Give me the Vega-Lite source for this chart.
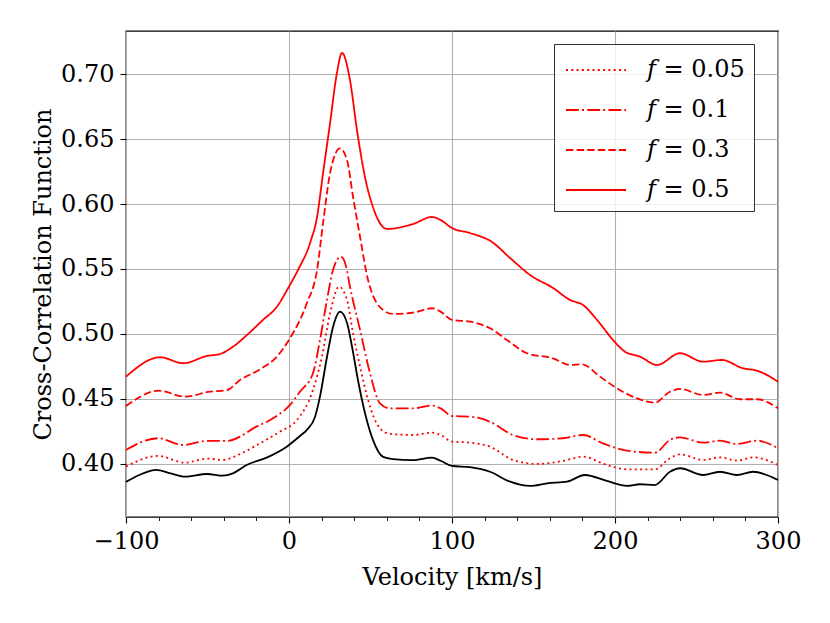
{
  "$schema": "https://vega.github.io/schema/vega-lite/v6.json",
  "width": 652,
  "height": 486,
  "autosize": {"type": "none"},
  "padding": {"left": 126, "top": 31, "right": 52, "bottom": 106},
  "background": "white",
  "config": {
    "font": "DejaVu Serif",
    "view": {"stroke": "black", "strokeWidth": 1.3},
    "axis": {
      "domain": false,
      "tickColor": "black",
      "tickWidth": 1.1,
      "labelFont": "DejaVu Serif",
      "labelFontSize": 24,
      "labelColor": "black",
      "titleFont": "DejaVu Serif",
      "titleFontSize": 24,
      "titleFontWeight": "normal",
      "titleColor": "black",
      "gridColor": "#b0b0b0",
      "gridWidth": 1.1,
      "gridOpacity": 1
    }
  },
  "data": {
    "values": [
      {"series": "base", "velocity": -100, "ccf": 0.3862},
      {"series": "base", "velocity": -90, "ccf": 0.3925},
      {"series": "base", "velocity": -81.6, "ccf": 0.3955},
      {"series": "base", "velocity": -72, "ccf": 0.3925},
      {"series": "base", "velocity": -63.8, "ccf": 0.3902},
      {"series": "base", "velocity": -50.3, "ccf": 0.3923},
      {"series": "base", "velocity": -40.5, "ccf": 0.391},
      {"series": "base", "velocity": -34.4, "ccf": 0.3928},
      {"series": "base", "velocity": -26, "ccf": 0.3992},
      {"series": "base", "velocity": -13.7, "ccf": 0.4049},
      {"series": "base", "velocity": -1.4, "ccf": 0.4133},
      {"series": "base", "velocity": 6.7, "ccf": 0.4215},
      {"series": "base", "velocity": 11, "ccf": 0.4262},
      {"series": "base", "velocity": 16, "ccf": 0.4364},
      {"series": "base", "velocity": 19, "ccf": 0.4518},
      {"series": "base", "velocity": 23.3, "ccf": 0.4823},
      {"series": "base", "velocity": 27, "ccf": 0.5054},
      {"series": "base", "velocity": 31.3, "ccf": 0.5172},
      {"series": "base", "velocity": 35.6, "ccf": 0.5085},
      {"series": "base", "velocity": 38.7, "ccf": 0.49},
      {"series": "base", "velocity": 42.3, "ccf": 0.4646},
      {"series": "base", "velocity": 46.6, "ccf": 0.4392},
      {"series": "base", "velocity": 51.5, "ccf": 0.4185},
      {"series": "base", "velocity": 57.7, "ccf": 0.4054},
      {"series": "base", "velocity": 63.8, "ccf": 0.4038},
      {"series": "base", "velocity": 76, "ccf": 0.403},
      {"series": "base", "velocity": 87.7, "ccf": 0.4049},
      {"series": "base", "velocity": 93, "ccf": 0.4025},
      {"series": "base", "velocity": 100, "ccf": 0.3985},
      {"series": "base", "velocity": 111, "ccf": 0.3975},
      {"series": "base", "velocity": 123.3, "ccf": 0.394},
      {"series": "base", "velocity": 135.6, "ccf": 0.3864},
      {"series": "base", "velocity": 147.9, "ccf": 0.3831},
      {"series": "base", "velocity": 158.3, "ccf": 0.3851},
      {"series": "base", "velocity": 170.6, "ccf": 0.3864},
      {"series": "base", "velocity": 181.6, "ccf": 0.3915},
      {"series": "base", "velocity": 195, "ccf": 0.3869},
      {"series": "base", "velocity": 207.4, "ccf": 0.3831},
      {"series": "base", "velocity": 215.3, "ccf": 0.3844},
      {"series": "base", "velocity": 224.5, "ccf": 0.3838},
      {"series": "base", "velocity": 233.7, "ccf": 0.394},
      {"series": "base", "velocity": 239.9, "ccf": 0.3967},
      {"series": "base", "velocity": 254, "ccf": 0.3915},
      {"series": "base", "velocity": 264.4, "ccf": 0.394},
      {"series": "base", "velocity": 274.8, "ccf": 0.3915},
      {"series": "base", "velocity": 284.7, "ccf": 0.394},
      {"series": "base", "velocity": 300, "ccf": 0.3877},

      {"series": "𝑓 = 0.05", "velocity": -100, "ccf": 0.398},
      {"series": "𝑓 = 0.05", "velocity": -80.4, "ccf": 0.4062},
      {"series": "𝑓 = 0.05", "velocity": -63.8, "ccf": 0.401},
      {"series": "𝑓 = 0.05", "velocity": -50.3, "ccf": 0.4041},
      {"series": "𝑓 = 0.05", "velocity": -40.5, "ccf": 0.4031},
      {"series": "𝑓 = 0.05", "velocity": -30, "ccf": 0.4077},
      {"series": "𝑓 = 0.05", "velocity": -17.8, "ccf": 0.4159},
      {"series": "𝑓 = 0.05", "velocity": -5.5, "ccf": 0.4249},
      {"series": "𝑓 = 0.05", "velocity": 4.9, "ccf": 0.4338},
      {"series": "𝑓 = 0.05", "velocity": 14.7, "ccf": 0.4569},
      {"series": "𝑓 = 0.05", "velocity": 20.2, "ccf": 0.4826},
      {"series": "𝑓 = 0.05", "velocity": 25.2, "ccf": 0.5159},
      {"series": "𝑓 = 0.05", "velocity": 30.7, "ccf": 0.5364},
      {"series": "𝑓 = 0.05", "velocity": 35.6, "ccf": 0.5262},
      {"series": "𝑓 = 0.05", "velocity": 39.3, "ccf": 0.5005},
      {"series": "𝑓 = 0.05", "velocity": 43.6, "ccf": 0.4749},
      {"series": "𝑓 = 0.05", "velocity": 48.5, "ccf": 0.4492},
      {"series": "𝑓 = 0.05", "velocity": 55.8, "ccf": 0.4274},
      {"series": "𝑓 = 0.05", "velocity": 62, "ccf": 0.4231},
      {"series": "𝑓 = 0.05", "velocity": 76, "ccf": 0.4223},
      {"series": "𝑓 = 0.05", "velocity": 87.7, "ccf": 0.4241},
      {"series": "𝑓 = 0.05", "velocity": 93, "ccf": 0.4223},
      {"series": "𝑓 = 0.05", "velocity": 100, "ccf": 0.4172},
      {"series": "𝑓 = 0.05", "velocity": 111, "ccf": 0.4164},
      {"series": "𝑓 = 0.05", "velocity": 123.3, "ccf": 0.4133},
      {"series": "𝑓 = 0.05", "velocity": 137.4, "ccf": 0.4031},
      {"series": "𝑓 = 0.05", "velocity": 152, "ccf": 0.4},
      {"series": "𝑓 = 0.05", "velocity": 168, "ccf": 0.4023},
      {"series": "𝑓 = 0.05", "velocity": 180.4, "ccf": 0.4056},
      {"series": "𝑓 = 0.05", "velocity": 195, "ccf": 0.3992},
      {"series": "𝑓 = 0.05", "velocity": 207.4, "ccf": 0.3959},
      {"series": "𝑓 = 0.05", "velocity": 224.5, "ccf": 0.3959},
      {"series": "𝑓 = 0.05", "velocity": 233.7, "ccf": 0.4044},
      {"series": "𝑓 = 0.05", "velocity": 239.9, "ccf": 0.4074},
      {"series": "𝑓 = 0.05", "velocity": 254, "ccf": 0.4031},
      {"series": "𝑓 = 0.05", "velocity": 264.4, "ccf": 0.4051},
      {"series": "𝑓 = 0.05", "velocity": 274.8, "ccf": 0.4026},
      {"series": "𝑓 = 0.05", "velocity": 284.7, "ccf": 0.4051},
      {"series": "𝑓 = 0.05", "velocity": 300, "ccf": 0.3992},

      {"series": "𝑓 = 0.1", "velocity": -100, "ccf": 0.4108},
      {"series": "𝑓 = 0.1", "velocity": -80.4, "ccf": 0.4198},
      {"series": "𝑓 = 0.1", "velocity": -65, "ccf": 0.4146},
      {"series": "𝑓 = 0.1", "velocity": -50.3, "ccf": 0.4177},
      {"series": "𝑓 = 0.1", "velocity": -38, "ccf": 0.4177},
      {"series": "𝑓 = 0.1", "velocity": -30, "ccf": 0.421},
      {"series": "𝑓 = 0.1", "velocity": -22, "ccf": 0.4274},
      {"series": "𝑓 = 0.1", "velocity": -9.8, "ccf": 0.4351},
      {"series": "𝑓 = 0.1", "velocity": 0.6, "ccf": 0.4454},
      {"series": "𝑓 = 0.1", "velocity": 6.7, "ccf": 0.4556},
      {"series": "𝑓 = 0.1", "velocity": 14.7, "ccf": 0.4698},
      {"series": "𝑓 = 0.1", "velocity": 19, "ccf": 0.4954},
      {"series": "𝑓 = 0.1", "velocity": 23.3, "ccf": 0.5262},
      {"series": "𝑓 = 0.1", "velocity": 27, "ccf": 0.5492},
      {"series": "𝑓 = 0.1", "velocity": 31.9, "ccf": 0.5595},
      {"series": "𝑓 = 0.1", "velocity": 35, "ccf": 0.552},
      {"series": "𝑓 = 0.1", "velocity": 37.4, "ccf": 0.5364},
      {"series": "𝑓 = 0.1", "velocity": 43.6, "ccf": 0.5031},
      {"series": "𝑓 = 0.1", "velocity": 49.7, "ccf": 0.4698},
      {"series": "𝑓 = 0.1", "velocity": 55.8, "ccf": 0.4467},
      {"series": "𝑓 = 0.1", "velocity": 62, "ccf": 0.4428},
      {"series": "𝑓 = 0.1", "velocity": 76, "ccf": 0.4428},
      {"series": "𝑓 = 0.1", "velocity": 87.7, "ccf": 0.4449},
      {"series": "𝑓 = 0.1", "velocity": 93, "ccf": 0.4428},
      {"series": "𝑓 = 0.1", "velocity": 100, "ccf": 0.4369},
      {"series": "𝑓 = 0.1", "velocity": 111, "ccf": 0.4364},
      {"series": "𝑓 = 0.1", "velocity": 123.3, "ccf": 0.4325},
      {"series": "𝑓 = 0.1", "velocity": 137.4, "ccf": 0.4223},
      {"series": "𝑓 = 0.1", "velocity": 152, "ccf": 0.419},
      {"series": "𝑓 = 0.1", "velocity": 168, "ccf": 0.4198},
      {"series": "𝑓 = 0.1", "velocity": 180.4, "ccf": 0.4223},
      {"series": "𝑓 = 0.1", "velocity": 192.6, "ccf": 0.4159},
      {"series": "𝑓 = 0.1", "velocity": 207.4, "ccf": 0.4102},
      {"series": "𝑓 = 0.1", "velocity": 224.5, "ccf": 0.4087},
      {"series": "𝑓 = 0.1", "velocity": 233.7, "ccf": 0.4185},
      {"series": "𝑓 = 0.1", "velocity": 239.9, "ccf": 0.4205},
      {"series": "𝑓 = 0.1", "velocity": 254, "ccf": 0.4164},
      {"series": "𝑓 = 0.1", "velocity": 264.4, "ccf": 0.4179},
      {"series": "𝑓 = 0.1", "velocity": 274.8, "ccf": 0.4154},
      {"series": "𝑓 = 0.1", "velocity": 287.1, "ccf": 0.4179},
      {"series": "𝑓 = 0.1", "velocity": 300, "ccf": 0.4121},

      {"series": "𝑓 = 0.3", "velocity": -100, "ccf": 0.4446},
      {"series": "𝑓 = 0.3", "velocity": -79.8, "ccf": 0.4564},
      {"series": "𝑓 = 0.3", "velocity": -63.8, "ccf": 0.4518},
      {"series": "𝑓 = 0.3", "velocity": -48.5, "ccf": 0.4556},
      {"series": "𝑓 = 0.3", "velocity": -38, "ccf": 0.4569},
      {"series": "𝑓 = 0.3", "velocity": -30, "ccf": 0.4646},
      {"series": "𝑓 = 0.3", "velocity": -17.8, "ccf": 0.4728},
      {"series": "𝑓 = 0.3", "velocity": -7.4, "ccf": 0.4826},
      {"series": "𝑓 = 0.3", "velocity": 0.6, "ccf": 0.4967},
      {"series": "𝑓 = 0.3", "velocity": 11, "ccf": 0.5238},
      {"series": "𝑓 = 0.3", "velocity": 17.2, "ccf": 0.5492},
      {"series": "𝑓 = 0.3", "velocity": 20.9, "ccf": 0.5854},
      {"series": "𝑓 = 0.3", "velocity": 25.2, "ccf": 0.6238},
      {"series": "𝑓 = 0.3", "velocity": 31.3, "ccf": 0.6428},
      {"series": "𝑓 = 0.3", "velocity": 35.6, "ccf": 0.6338},
      {"series": "𝑓 = 0.3", "velocity": 39.3, "ccf": 0.6054},
      {"series": "𝑓 = 0.3", "velocity": 43.6, "ccf": 0.5746},
      {"series": "𝑓 = 0.3", "velocity": 48.5, "ccf": 0.5415},
      {"series": "𝑓 = 0.3", "velocity": 57.7, "ccf": 0.5185},
      {"series": "𝑓 = 0.3", "velocity": 63.8, "ccf": 0.5154},
      {"series": "𝑓 = 0.3", "velocity": 76, "ccf": 0.5164},
      {"series": "𝑓 = 0.3", "velocity": 87.7, "ccf": 0.5198},
      {"series": "𝑓 = 0.3", "velocity": 93, "ccf": 0.5172},
      {"series": "𝑓 = 0.3", "velocity": 100, "ccf": 0.5108},
      {"series": "𝑓 = 0.3", "velocity": 111, "ccf": 0.5095},
      {"series": "𝑓 = 0.3", "velocity": 123.3, "ccf": 0.5044},
      {"series": "𝑓 = 0.3", "velocity": 133.7, "ccf": 0.4954},
      {"series": "𝑓 = 0.3", "velocity": 146, "ccf": 0.4852},
      {"series": "𝑓 = 0.3", "velocity": 162, "ccf": 0.4813},
      {"series": "𝑓 = 0.3", "velocity": 172.4, "ccf": 0.4762},
      {"series": "𝑓 = 0.3", "velocity": 179.8, "ccf": 0.4767},
      {"series": "𝑓 = 0.3", "velocity": 190.8, "ccf": 0.4672},
      {"series": "𝑓 = 0.3", "velocity": 201.2, "ccf": 0.4582},
      {"series": "𝑓 = 0.3", "velocity": 213.5, "ccf": 0.4505},
      {"series": "𝑓 = 0.3", "velocity": 224.5, "ccf": 0.4472},
      {"series": "𝑓 = 0.3", "velocity": 233.7, "ccf": 0.4556},
      {"series": "𝑓 = 0.3", "velocity": 239.9, "ccf": 0.4577},
      {"series": "𝑓 = 0.3", "velocity": 254, "ccf": 0.4531},
      {"series": "𝑓 = 0.3", "velocity": 264.4, "ccf": 0.4549},
      {"series": "𝑓 = 0.3", "velocity": 276.7, "ccf": 0.4498},
      {"series": "𝑓 = 0.3", "velocity": 287.1, "ccf": 0.4498},
      {"series": "𝑓 = 0.3", "velocity": 300, "ccf": 0.4428},

      {"series": "𝑓 = 0.5", "velocity": -100, "ccf": 0.4672},
      {"series": "𝑓 = 0.5", "velocity": -79, "ccf": 0.4821},
      {"series": "𝑓 = 0.5", "velocity": -65, "ccf": 0.4775},
      {"series": "𝑓 = 0.5", "velocity": -50.3, "ccf": 0.4831},
      {"series": "𝑓 = 0.5", "velocity": -42.3, "ccf": 0.4846},
      {"series": "𝑓 = 0.5", "velocity": -34.4, "ccf": 0.4902},
      {"series": "𝑓 = 0.5", "velocity": -25.8, "ccf": 0.4992},
      {"series": "𝑓 = 0.5", "velocity": -16, "ccf": 0.5108},
      {"series": "𝑓 = 0.5", "velocity": -7.4, "ccf": 0.521},
      {"series": "𝑓 = 0.5", "velocity": -1.2, "ccf": 0.5338},
      {"series": "𝑓 = 0.5", "velocity": 5.5, "ccf": 0.5492},
      {"series": "𝑓 = 0.5", "velocity": 12.9, "ccf": 0.57},
      {"series": "𝑓 = 0.5", "velocity": 17.2, "ccf": 0.59},
      {"series": "𝑓 = 0.5", "velocity": 20.9, "ccf": 0.6238},
      {"series": "𝑓 = 0.5", "velocity": 25.2, "ccf": 0.6623},
      {"series": "𝑓 = 0.5", "velocity": 29.4, "ccf": 0.7008},
      {"series": "𝑓 = 0.5", "velocity": 32.5, "ccf": 0.7162},
      {"series": "𝑓 = 0.5", "velocity": 37.4, "ccf": 0.6954},
      {"series": "𝑓 = 0.5", "velocity": 41.7, "ccf": 0.6569},
      {"series": "𝑓 = 0.5", "velocity": 46.6, "ccf": 0.6208},
      {"series": "𝑓 = 0.5", "velocity": 51.5, "ccf": 0.5977},
      {"series": "𝑓 = 0.5", "velocity": 60.1, "ccf": 0.5808},
      {"series": "𝑓 = 0.5", "velocity": 76, "ccf": 0.5846},
      {"series": "𝑓 = 0.5", "velocity": 87.7, "ccf": 0.59},
      {"series": "𝑓 = 0.5", "velocity": 93, "ccf": 0.5877},
      {"series": "𝑓 = 0.5", "velocity": 100, "ccf": 0.5815},
      {"series": "𝑓 = 0.5", "velocity": 111, "ccf": 0.5777},
      {"series": "𝑓 = 0.5", "velocity": 124.5, "ccf": 0.5708},
      {"series": "𝑓 = 0.5", "velocity": 135.6, "ccf": 0.5585},
      {"series": "𝑓 = 0.5", "velocity": 147.9, "ccf": 0.5454},
      {"series": "𝑓 = 0.5", "velocity": 162, "ccf": 0.5354},
      {"series": "𝑓 = 0.5", "velocity": 172.4, "ccf": 0.5262},
      {"series": "𝑓 = 0.5", "velocity": 180.4, "ccf": 0.5223},
      {"series": "𝑓 = 0.5", "velocity": 189, "ccf": 0.5108},
      {"series": "𝑓 = 0.5", "velocity": 198.8, "ccf": 0.4954},
      {"series": "𝑓 = 0.5", "velocity": 206.1, "ccf": 0.4864},
      {"series": "𝑓 = 0.5", "velocity": 215.3, "ccf": 0.4826},
      {"series": "𝑓 = 0.5", "velocity": 225.8, "ccf": 0.4762},
      {"series": "𝑓 = 0.5", "velocity": 239.9, "ccf": 0.4852},
      {"series": "𝑓 = 0.5", "velocity": 254, "ccf": 0.4787},
      {"series": "𝑓 = 0.5", "velocity": 265.6, "ccf": 0.48},
      {"series": "𝑓 = 0.5", "velocity": 278.5, "ccf": 0.4736},
      {"series": "𝑓 = 0.5", "velocity": 287.1, "ccf": 0.4718},
      {"series": "𝑓 = 0.5", "velocity": 300, "ccf": 0.4633}
    ]
  },
  "layer": [
    {
      "transform": [{"filter": "datum.series == 'base'"}],
      "mark": {"type": "line", "color": "black", "strokeWidth": 1.8, "interpolate": "monotone"},
      "encoding": {
        "x": {
          "field": "velocity",
          "type": "quantitative",
          "scale": {"domain": [-100, 300], "nice": false},
          "axis": {
            "orient": "bottom",
            "values": [-100, 0, 100, 200, 300],
            "format": "d",
            "labelExpr": "replace(datum.label, '-', '−')",
            "grid": true,
            "ticks": true,
            "tickSize": 6,
            "labelPadding": 6,
            "labelFlush": false,
            "title": "Velocity [km/s]",
            "titlePadding": 12
          }
        },
        "y": {
          "field": "ccf",
          "type": "quantitative",
          "scale": {"domain": [0.3592, 0.7331], "nice": false, "zero": false},
          "axis": {
            "values": [0.4, 0.45, 0.5, 0.55, 0.6, 0.65, 0.7],
            "format": ".2f",
            "grid": true,
            "ticks": true,
            "tickSize": 6,
            "labelPadding": 6,
            "title": "Cross-Correlation Function",
            "titlePadding": 5
          }
        }
      }
    },
    {
      "transform": [{"filter": "datum.series != 'base'"}],
      "mark": {"type": "line", "color": "red", "strokeWidth": 1.8, "interpolate": "monotone"},
      "encoding": {
        "x": {
          "field": "velocity",
          "type": "quantitative",
          "axis": {
            "orient": "bottom",
            "values": [-80, -60, -40, -20, 20, 40, 60, 80, 120, 140, 160, 180, 220, 240, 260, 280],
            "labels": false,
            "grid": false,
            "ticks": true,
            "tickSize": 3.5,
            "tickWidth": 0.9,
            "title": null
          }
        },
        "y": {"field": "ccf", "type": "quantitative"},
        "strokeDash": {
          "field": "series",
          "type": "nominal",
          "scale": {
            "domain": ["𝑓 = 0.05", "𝑓 = 0.1", "𝑓 = 0.3", "𝑓 = 0.5"],
            "range": [[2, 3.3], [12.8, 3.2, 2, 3.2], [7.4, 3.2], [1, 0]]
          },
          "legend": {
            "orient": "none",
            "legendX": 428,
            "legendY": 13,
            "title": null,
            "symbolType": "M-1.875,0H1.875",
            "symbolSize": 1024,
            "symbolOffset": 16,
            "symbolStrokeColor": "red",
            "symbolStrokeWidth": 1.8,
            "labelFont": "DejaVu Serif",
            "labelFontSize": 24,
            "labelColor": "black",
            "labelOffset": 34,
            "padding": 9,
            "rowPadding": 11,
            "strokeColor": "#333333",
            "fillColor": "rgba(255,255,255,0.8)",
            "cornerRadius": 0
          }
        }
      }
    }
  ],
  "resolve": {"axis": {"x": "independent"}}
}
